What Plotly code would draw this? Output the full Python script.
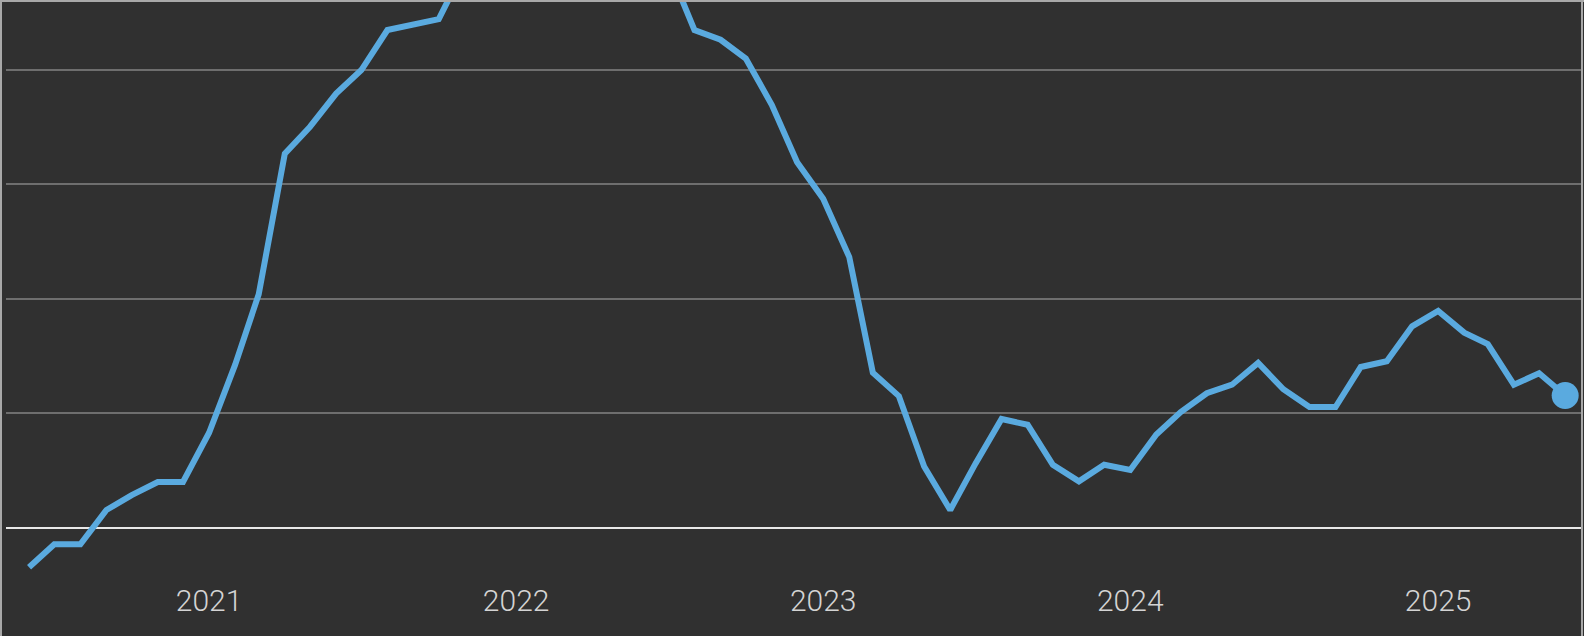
import plotly.graph_objects as go
import pandas as pd

# Monthly values, Jun 2020 - Jun 2025 (year-over-year %)
start_month = "2020-06-01"
values = [
    -0.69, -0.29, -0.29, 0.31, 0.57, 0.80, 0.80,            # Jun-Dec 2020
    1.66, 2.85, 4.08, 6.54, 7.01, 7.59, 8.00, 8.70, 8.80, 8.89, 9.8, 10.0,   # 2021
    10.1, 10.6, 11.7, 11.2, 10.9, 11.3, 9.8, 8.70, 8.53, 8.20, 7.39, 6.39,    # 2022
    5.75, 4.73, 2.71, 2.30, 1.07, 0.31, 1.12, 1.90, 1.80, 1.10, 0.81, 1.10,   # 2023
    1.01, 1.63, 2.02, 2.35, 2.50, 2.88, 2.42, 2.11, 2.11, 2.81, 2.91, 3.52,   # 2024
    3.79, 3.41, 3.21, 2.50, 2.70, 2.31,                                        # 2025
]
dates = pd.date_range(start_month, periods=len(values), freq="MS")
tick_years = ["2021", "2022", "2023", "2024", "2025"]
tick_dates = [f"{y}-01-01" for y in tick_years]

BG = "#303030"
LINE = "#5aaadf"
FRAME = "#a8a8a8"

fig = go.Figure()
fig.add_trace(go.Scatter(x=dates, y=values, mode="lines",
                         line=dict(color=LINE, width=6), hoverinfo="skip"))
fig.add_trace(go.Scatter(x=[dates[-1]], y=[values[-1]], mode="markers",
                         marker=dict(color=LINE, size=27), hoverinfo="skip"))

fig.update_layout(
    width=1584, height=636,
    margin=dict(l=6, r=2, t=2, b=56),
    paper_bgcolor=BG, plot_bgcolor=BG,
    showlegend=False,
    font=dict(family="Roboto, Liberation Sans, sans-serif", color="#d4d4d4", weight=300),
)
fig.update_xaxes(
    type="date",
    range=["2020-05-04 14:00", "2025-06-21"],
    tickvals=tick_dates, ticktext=tick_years,
    showgrid=False, zeroline=False, showline=False, ticks="",
    tickfont=dict(size=30, color="#d4d4d4", weight=300),
)
fig.update_yaxes(
    range=[-0.914, 9.19],
    tick0=0, dtick=2,
    showticklabels=False, ticks="",
    showgrid=True, gridcolor="#6e6e6e", gridwidth=2,
    zeroline=True, zerolinecolor="#e8e8e8", zerolinewidth=2,
)
# thin frame lines on left, top and right edges of the figure
fig.add_shape(type="line", xref="paper", yref="paper", x0=-5/1576, x1=-5/1576, y0=-56/578, y1=1+2/578,
              line=dict(color=FRAME, width=2), layer="above")
fig.add_shape(type="line", xref="paper", yref="paper", x0=-6/1576, x1=1+2/1576, y0=1+1/578, y1=1+1/578,
              line=dict(color=FRAME, width=2), layer="above")
fig.add_shape(type="line", xref="paper", yref="paper", x0=1, x1=1, y0=-56/578, y1=1+2/578,
              line=dict(color=FRAME, width=2), layer="above")

fig.write_html(
    "out.html",
    config={"displayModeBar": False},
    post_script="document.body.style.margin='0';document.body.style.overflow='hidden';",
)
